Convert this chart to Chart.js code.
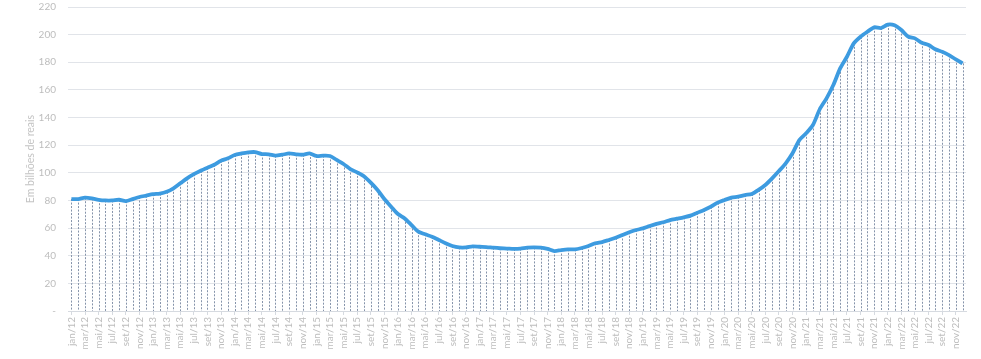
<!DOCTYPE html>
<html>
<head>
<meta charset="utf-8">
<script src="https://cdn.jsdelivr.net/npm/chart.js@4.4.1/dist/chart.umd.min.js"></script>
<style>
  html, body { margin: 0; padding: 0; background: #fff; }
  #wrap { width: 981px; height: 359px; }
</style>
</head>
<body>
<div id="wrap"><canvas id="grafico"></canvas></div>
<script>
// meses e anos (eixo x)
const meses = ['jan', 'fev', 'mar', 'abr', 'mai', 'jun', 'jul', 'ago', 'set', 'out', 'nov', 'dez'];
const anos = ['12', '13', '14', '15', '16', '17', '18', '19', '20', '21', '22'];

// valores mensais, em bilhões de reais
const v2012 = [81, 81, 82, 81.5, 80.5, 80, 80, 80.5, 79.5, 81, 82.5, 83.5];
const v2013 = [84.5, 85, 86.3, 88.8, 92.4, 96, 99, 101.5, 103.7, 105.8, 108.8, 110.5];
const v2014 = [112.9, 114, 114.8, 115, 113.6, 113.4, 112.4, 113.1, 114, 113.4, 113.1, 114];
const v2015 = [112.2, 112.4, 112.2, 109.3, 106.4, 102.7, 100.3, 97.5, 92.9, 87.6, 81, 75.5];
const v2016 = [70.2, 67, 62.2, 57.4, 55.5, 53.8, 51.4, 49, 47, 46, 46, 46.8];
const v2017 = [46.5, 46.3, 45.8, 45.4, 45.2, 44.9, 45.1, 45.8, 46, 45.8, 44.9, 43.4];
const v2018 = [44.1, 44.6, 44.6, 45.6, 47, 49, 49.9, 51.4, 53, 55, 57, 58.6];
const v2019 = [59.8, 61.5, 63, 64.2, 65.8, 66.8, 67.8, 69, 71.1, 73.1, 75.5, 78.4];
const v2020 = [80.3, 82, 82.7, 83.9, 84.7, 87.6, 91.2, 96, 101.3, 106.9, 114.1, 123.7];
const v2021 = [128.6, 134.6, 146, 153.9, 163.5, 175.6, 184, 193.7, 198.5, 202.1, 205.3, 204.8];
const v2022 = [207.3, 206.8, 203.3, 198.5, 197.3, 194.1, 192.5, 189.4, 187.6, 185.2, 182.1, 179.2];

// ticks do eixo y
const yMin = 0;
const yMax = 220;
const yPasso = 20;

const rotulos = [];
anos.forEach(a => meses.forEach(m => rotulos.push(m + '/' + a)));
const valores = [].concat(v2012, v2013, v2014, v2015, v2016, v2017, v2018, v2019, v2020, v2021, v2022);

const cinzaTexto = '#bdbdbd';

// linhas pontilhadas de cada ponto até o eixo
const linhasVerticais = {
    id: 'linhasVerticais',
    beforeDatasetsDraw(chart) {
        const ctx = chart.ctx;
        const x = chart.scales.x;
        const y = chart.scales.y;
        ctx.save();
        ctx.strokeStyle = '#8593aa';
        ctx.lineWidth = 1;
        ctx.setLineDash([2, 1.5]);
        valores.forEach((v, i) => {
            const px = Math.round(x.getPixelForValue(i)) + 0.5;
            ctx.beginPath();
            ctx.moveTo(px, y.getPixelForValue(v));
            ctx.lineTo(px, y.getPixelForValue(0));
            ctx.stroke();
        });
        ctx.restore();
    }
};

const ctx = document.getElementById('grafico');

new Chart(ctx, {
    type: 'line',
    data: {
        labels: rotulos,
        datasets: [{
            label: 'Em bilhões de reais',
            data: valores,
            borderColor: '#3d9be0',
            borderWidth: 3.8,
            pointRadius: 0,
            tension: 0.25,
            fill: false
        }]
    },
    options: {
        responsive: true,
        maintainAspectRatio: false,
        animation: false,
        layout: {
            padding: { top: 7, right: 15, left: 0, bottom: 0 }
        },
        plugins: {
            legend: { display: false },
            tooltip: { enabled: false }
        },
        scales: {
            x: {
                offset: true,
                afterFit: (scale) => { scale.height = 48; },
                grid: {
                    drawOnChartArea: false,
                    tickLength: 4,
                    color: '#d6dae0'
                },
                border: { color: '#d6dae0' },
                ticks: {
                    autoSkip: false,
                    maxRotation: 90,
                    minRotation: 90,
                    padding: 2,
                    color: cinzaTexto,
                    font: { family: 'Lato', size: 10 },
                    callback: function (val, i) {
                        return i % 2 === 0 ? rotulos[i] : null;
                    }
                }
            },
            y: {
                min: yMin,
                max: yMax,
                afterFit: (scale) => {
                    scale.width = 68;
                    scale.paddingTop = 0;
                    scale.paddingBottom = 0;
                },
                grid: {
                    color: '#e1e4e9',
                    drawTicks: false
                },
                border: { display: false },
                title: {
                    display: true,
                    text: 'Em bilhões de reais',
                    color: '#c4c4c4',
                    font: { family: 'Lato', size: 10.5 },
                    padding: { top: 24, bottom: 0 }
                },
                ticks: {
                    stepSize: yPasso,
                    padding: 12,
                    color: cinzaTexto,
                    font: { family: 'Lato', size: 10 },
                    callback: (v) => v === 0 ? '-' : v
                }
            }
        }
    },
    plugins: [linhasVerticais]
});
</script>
</body>
</html>
